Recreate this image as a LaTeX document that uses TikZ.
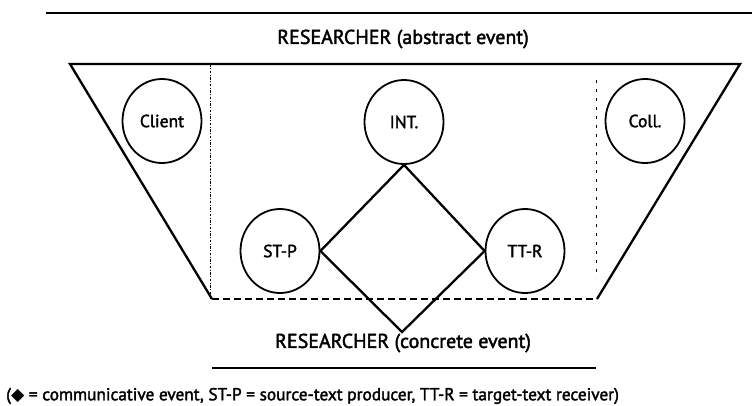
\documentclass[tikz,border=0pt]{standalone}
\usepackage{fontspec}
\setmainfont{PT Sans}[FakeBold=2]
\newfontfamily\labfont{PT Sans}[FakeBold=2]
\newfontfamily\symfont{DejaVu Sans}
\usetikzlibrary{shapes.geometric}
\begin{document}
\begin{tikzpicture}[x=1pt,y=-1pt,
  ell/.style={draw, ellipse, line width=1.8pt, minimum width=79pt, minimum height=84pt, inner sep=0pt, font=\labfont\fontsize{17.5}{19}\selectfont},
  heavy/.style={line width=2.3pt},
  rulestyle/.style={line width=2pt},
  lbl/.style={font=\labfont\fontsize{20}{22}\selectfont, inner sep=0pt},
  captext/.style={font=\labfont\fontsize{17.3}{20}\selectfont, inner sep=0pt, anchor=west}]
\useasboundingbox (0,0) rectangle (752,405);
% horizontal rules
\coordinate (t1) at (46,13);
\coordinate (t2) at (752,13);
\coordinate (b1) at (212,368);
\coordinate (b2) at (596,368);
\draw[rulestyle] (t1) -- (t2);
\draw[rulestyle] (b1) -- (b2);
% labels
\node[lbl] (abs) at (403,39) {RESEARCHER (abstract event)};
\node[lbl] (con) at (403,343) {RESEARCHER (concrete event)};
\node[captext] (caption) at (6,396) {({\symfont ◆} = communicative event, ST-P = source-text producer, TT-R = target-text receiver)};
% trapezoid
\coordinate (TL) at (70,64);
\coordinate (TR) at (740,64);
\coordinate (BR) at (597,299);
\coordinate (BL) at (212,299);
\draw[heavy, line join=miter] (BL) -- (TL) -- (TR) -- (BR);
\draw[heavy, dash pattern=on 7pt off 4pt] (BL) -- (BR);
% dotted dividers
\coordinate (d1a) at (210,64);
\coordinate (d1b) at (210,299);
\coordinate (d2a) at (596,80);
\coordinate (d2b) at (596,278);
\draw[line width=0.9pt, dash pattern=on 2.5pt off 1.5pt on 1pt off 1.5pt] (d1a) -- (d1b);
\draw[line width=0.9pt, dash pattern=on 3pt off 6pt] (d2a) -- (d2b);
% participants
\node[ell] (client) at (162,121) {Client};
\node[ell] (int) at (404,122) {INT.};
\node[ell] (coll) at (645,121) {Coll.};
\node[ell] (stp) at (280,251) {ST-P};
\node[ell] (ttr) at (525,251) {TT-R};
% communicative event diamond
\coordinate (bot) at (402,332);
\draw[heavy, line join=miter] (int.south) -- (stp.east) -- (bot) -- (ttr.west) -- cycle;
\end{tikzpicture}
\end{document}
